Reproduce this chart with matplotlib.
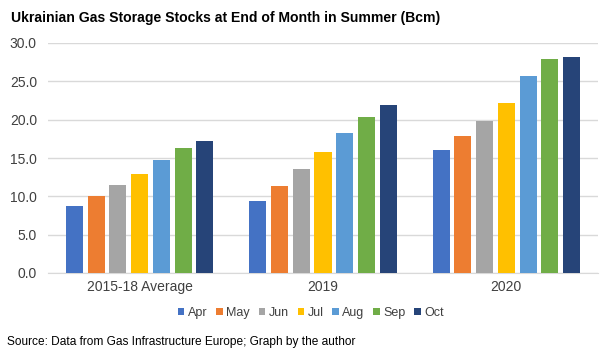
import matplotlib
matplotlib.use("Agg")
import matplotlib.pyplot as plt
import numpy as np

plt.rcParams['font.family'] = ['Liberation Sans', 'DejaVu Sans']

categories = ["2015-18 Average", "2019", "2020"]
months = ["Apr", "May", "Jun", "Jul", "Aug", "Sep", "Oct"]
values = {
    "Apr": [8.7, 9.4, 16.0],
    "May": [10.1, 11.4, 17.9],
    "Jun": [11.5, 13.6, 19.8],
    "Jul": [12.9, 15.8, 22.2],
    "Aug": [14.7, 18.3, 25.7],
    "Sep": [16.3, 20.4, 27.9],
    "Oct": [17.2, 21.9, 28.2],
}
colors = ["#4472C4", "#ED7D31", "#A5A5A5", "#FFC000", "#5B9BD5", "#70AD47", "#264478"]
yticks = [0, 5, 10, 15, 20, 25, 30]

fig = plt.figure(figsize=(6.0, 3.52), dpi=100)
ax = fig.add_axes([48/600, 1-273/352, 550/600, 230/352])

x = np.arange(len(categories))
step = 0.1185
width = 0.093
for i, m in enumerate(months):
    ax.bar(x + (i - 3) * step, values[m], width=width, color=colors[i], label=m, zorder=3)

ax.set_xlim(-0.5, len(categories) - 0.5)
ax.set_ylim(0, 30)
ax.set_yticks(yticks)
ax.set_yticklabels([f"{v:.1f}" for v in yticks])
ax.set_xticks(x)
ax.set_xticklabels(categories)
ax.tick_params(axis='both', length=0, labelsize=10, colors="#404040")
ax.tick_params(axis='y', pad=8)
ax.tick_params(axis='x', pad=5)
ax.grid(axis='y', color="#D9D9D9", linewidth=1, zorder=0)
for s in ["top", "right", "left"]:
    ax.spines[s].set_visible(False)
ax.spines["bottom"].set_color("#D9D9D9")

fig.text(11/600, 1-18/352, "Ukrainian Gas Storage Stocks at End of Month in Summer (Bcm)",
         fontsize=10.05, fontweight='bold', va='center', ha='left', color="#000000")
fig.text(7/600, 1-342/352, "Source: Data from Gas Infrastructure Europe; Graph by the author",
         fontsize=8.6, va='center', ha='left', color="#000000")

fig.legend(loc='center', bbox_to_anchor=(311/600, 1-313/352), ncol=7, frameon=False,
           fontsize=9, handlelength=0.5, handleheight=0.5, handletextpad=0.3,
           columnspacing=0.7, labelcolor="#404040")

fig.savefig("out.png", dpi=100)
